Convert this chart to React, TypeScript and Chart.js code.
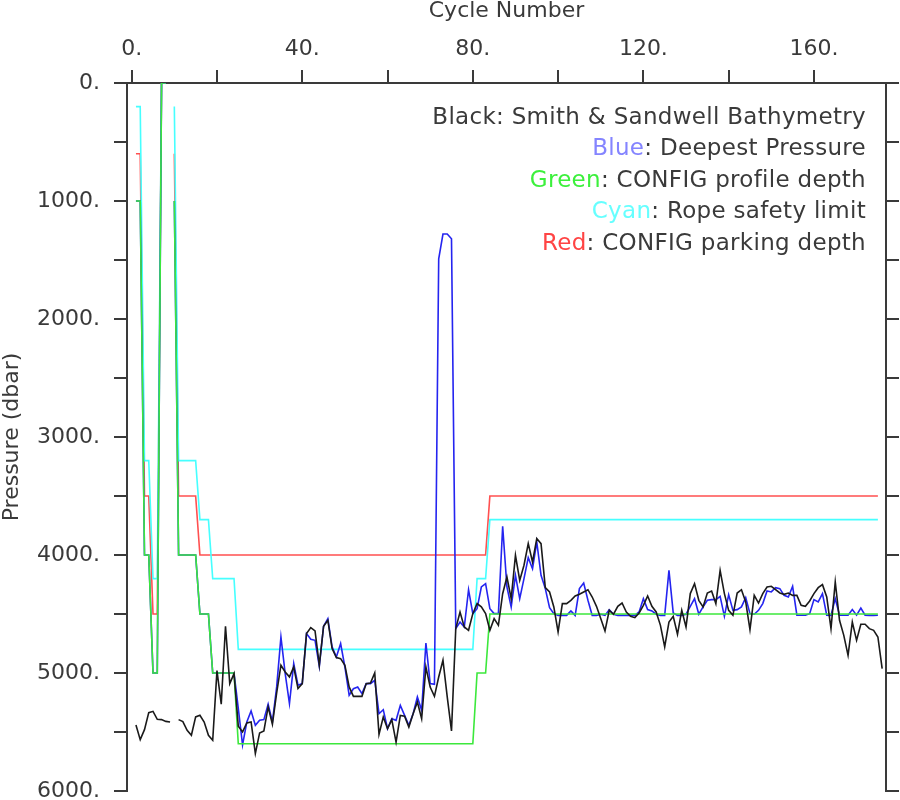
import React, { useEffect, useRef } from "react";
import { Chart, registerables } from "chart.js";

Chart.register(...registerables);

// ---------- data (cycle number -> pressure, dbar) ----------
const cycles = Array.from({ length: 176 }, (_, i) => i + 1);

const ropeSafetyLimit = [
  200, 200, 3200, 3200, 4200, 4200, 0, 0, null, 200,
  3200, 3200, 3200, 3200, 3200, 3700, 3700, 3700, 4200, 4200,
  4200, 4200, 4200, 4200, 4800, 4800, 4800, 4800, 4800, 4800,
  4800, 4800, 4800, 4800, 4800, 4800, 4800, 4800, 4800, 4800,
  4800, 4800, 4800, 4800, 4800, 4800, 4800, 4800, 4800, 4800,
  4800, 4800, 4800, 4800, 4800, 4800, 4800, 4800, 4800, 4800,
  4800, 4800, 4800, 4800, 4800, 4800, 4800, 4800, 4800, 4800,
  4800, 4800, 4800, 4800, 4800, 4800, 4800, 4800, 4800, 4800,
  4200, 4200, 4200, 3700, 3700, 3700, 3700, 3700, 3700, 3700,
  3700, 3700, 3700, 3700, 3700, 3700, 3700, 3700, 3700, 3700,
  3700, 3700, 3700, 3700, 3700, 3700, 3700, 3700, 3700, 3700,
  3700, 3700, 3700, 3700, 3700, 3700, 3700, 3700, 3700, 3700,
  3700, 3700, 3700, 3700, 3700, 3700, 3700, 3700, 3700, 3700,
  3700, 3700, 3700, 3700, 3700, 3700, 3700, 3700, 3700, 3700,
  3700, 3700, 3700, 3700, 3700, 3700, 3700, 3700, 3700, 3700,
  3700, 3700, 3700, 3700, 3700, 3700, 3700, 3700, 3700, 3700,
  3700, 3700, 3700, 3700, 3700, 3700, 3700, 3700, 3700, 3700,
  3700, 3700, 3700, 3700, 3700,
];

const parkingDepth = [
  600, 600, 3500, 3500, 4500, 4500, 0, 0, null, 600,
  3500, 3500, 3500, 3500, 3500, 4000, 4000, 4000, 4000, 4000,
  4000, 4000, 4000, 4000, 4000, 4000, 4000, 4000, 4000, 4000,
  4000, 4000, 4000, 4000, 4000, 4000, 4000, 4000, 4000, 4000,
  4000, 4000, 4000, 4000, 4000, 4000, 4000, 4000, 4000, 4000,
  4000, 4000, 4000, 4000, 4000, 4000, 4000, 4000, 4000, 4000,
  4000, 4000, 4000, 4000, 4000, 4000, 4000, 4000, 4000, 4000,
  4000, 4000, 4000, 4000, 4000, 4000, 4000, 4000, 4000, 4000,
  4000, 4000, 4000, 3500, 3500, 3500, 3500, 3500, 3500, 3500,
  3500, 3500, 3500, 3500, 3500, 3500, 3500, 3500, 3500, 3500,
  3500, 3500, 3500, 3500, 3500, 3500, 3500, 3500, 3500, 3500,
  3500, 3500, 3500, 3500, 3500, 3500, 3500, 3500, 3500, 3500,
  3500, 3500, 3500, 3500, 3500, 3500, 3500, 3500, 3500, 3500,
  3500, 3500, 3500, 3500, 3500, 3500, 3500, 3500, 3500, 3500,
  3500, 3500, 3500, 3500, 3500, 3500, 3500, 3500, 3500, 3500,
  3500, 3500, 3500, 3500, 3500, 3500, 3500, 3500, 3500, 3500,
  3500, 3500, 3500, 3500, 3500, 3500, 3500, 3500, 3500, 3500,
  3500, 3500, 3500, 3500, 3500,
];

const profileDepth = [
  1000, 1000, 4000, 4000, 5000, 5000, 0, 0, null, 1000,
  4000, 4000, 4000, 4000, 4000, 4500, 4500, 4500, 5000, 5000,
  5000, 5000, 5000, 5000, 5600, 5600, 5600, 5600, 5600, 5600,
  5600, 5600, 5600, 5600, 5600, 5600, 5600, 5600, 5600, 5600,
  5600, 5600, 5600, 5600, 5600, 5600, 5600, 5600, 5600, 5600,
  5600, 5600, 5600, 5600, 5600, 5600, 5600, 5600, 5600, 5600,
  5600, 5600, 5600, 5600, 5600, 5600, 5600, 5600, 5600, 5600,
  5600, 5600, 5600, 5600, 5600, 5600, 5600, 5600, 5600, 5600,
  5000, 5000, 5000, 4500, 4500, 4500, 4500, 4500, 4500, 4500,
  4500, 4500, 4500, 4500, 4500, 4500, 4500, 4500, 4500, 4500,
  4500, 4500, 4500, 4500, 4500, 4500, 4500, 4500, 4500, 4500,
  4500, 4500, 4500, 4500, 4500, 4500, 4500, 4500, 4500, 4500,
  4500, 4500, 4500, 4500, 4500, 4500, 4500, 4500, 4500, 4500,
  4500, 4500, 4500, 4500, 4500, 4500, 4500, 4500, 4500, 4500,
  4500, 4500, 4500, 4500, 4500, 4500, 4500, 4500, 4500, 4500,
  4500, 4500, 4500, 4500, 4500, 4500, 4500, 4500, 4500, 4500,
  4500, 4500, 4500, 4500, 4500, 4500, 4500, 4500, 4500, 4500,
  4500, 4500, 4500, 4500, 4500,
];

const deepestPressure = [
  1000, 1000, 4000, 4000, 5000, 5000, 0, 0, null, 1000,
  4000, 4000, 4000, 4000, 4000, 4500, 4500, 4500, 5000, 5000,
  5000, 5000, 5000, 5000, 5300, 5610, 5415, 5321, 5443, 5400,
  5395, 5265, 5415, 5118, 4694, 5005, 5259, 4920, 5104, 5090,
  4666, 4714, 4723, 4943, 4604, 4539, 4779, 4864, 4751, 4949,
  5189, 5133, 5119, 5175, 5090, 5090, 5062, 5345, 5311, 5472,
  5387, 5401, 5274, 5359, 5443, 5345, 5203, 5316, 4746, 5090,
  5096, 1490, 1280, 1280, 1320, 4624, 4568, 4610, 4294, 4497,
  4455, 4271, 4243, 4455, 4497, 4497, 3757, 4271, 4441, 4172,
  4370, 4200, 4022, 4116, 3890, 4172, 4285, 4446, 4497, 4512,
  4512, 4512, 4474, 4512, 4285, 4237, 4384, 4512, 4512, 4502,
  4512, 4463, 4502, 4512, 4512, 4512, 4512, 4512, 4483, 4370,
  4463, 4474, 4502, 4512, 4512, 4130, 4491, 4512, 4512, 4502,
  4435, 4370, 4502, 4440, 4384, 4378, 4378, 4350, 4520, 4336,
  4469, 4463, 4440, 4361, 4497, 4502, 4469, 4412, 4305, 4313,
  4277, 4285, 4342, 4356, 4265, 4510, 4510, 4510, 4497, 4378,
  4398, 4327, 4510, 4512, 4370, 4510, 4510, 4510, 4463, 4510,
  4449, 4510, 4512, 4512, 4510,
];

const bathymetry = [
  5440, 5565, 5480, 5336, 5325, 5392, 5395, 5410, 5415, null,
  5395, 5412, 5485, 5528, 5372, 5358, 5415, 5528, 5570, 4980,
  5265, 4604, 5090, 5005, 5450, 5499, 5423, 5415, 5683, 5508,
  5491, 5288, 5434, 5169, 4934, 4991, 5033, 4949, 5132, 5090,
  4666, 4615, 4643, 4934, 4604, 4553, 4793, 4869, 4878, 4934,
  5118, 5198, 5198, 5198, 5090, 5085, 5000, 5520, 5373, 5472,
  5395, 5585, 5359, 5367, 5458, 5345, 5246, 5387, 4949, 5119,
  5198, 5034, 4892, 5203, 5491, 4624, 4483, 4610, 4638, 4497,
  4412, 4440, 4497, 4638, 4539, 4596, 4328, 4186, 4370, 4003,
  4215, 4087, 3904, 4059, 3861, 3904, 4277, 4313, 4440, 4652,
  4412, 4412, 4384, 4347, 4333, 4313, 4294, 4356, 4435, 4539,
  4644, 4469, 4502, 4435, 4407, 4483, 4520, 4531, 4491, 4426,
  4347, 4435, 4483, 4596, 4779, 4568, 4520, 4672, 4469, 4610,
  4327, 4243, 4384, 4440, 4322, 4305, 4412, 4130, 4327, 4469,
  4511, 4322, 4294, 4398, 4633, 4342, 4407, 4327, 4271, 4265,
  4294, 4322, 4333, 4322, 4342, 4342, 4426, 4435, 4390, 4327,
  4277, 4251, 4356, 4624, 4228, 4553, 4681, 4850, 4568, 4723,
  4587, 4587, 4624, 4638, 4695, 4963,
];

const xTickValues = [0, 20, 40, 60, 80, 100, 120, 140, 160];
const xTickLabels = ["0.", "", "40.", "", "80.", "", "120.", "", "160."];
const yTickValues = [0, 500, 1000, 1500, 2000, 2500, 3000, 3500, 4000, 4500, 5000, 5500, 6000];
const yTickLabels = ["0.", "", "1000.", "", "2000.", "", "3000.", "", "4000.", "", "5000.", "", "6000."];

const legendKeys = ["Black", "Blue", "Green", "Cyan", "Red"];
const legendKeyColors = ["#3a3a3a", "#8484ff", "#3cf03c", "#66ffff", "#ff4444"];
const legendTexts = [
  ": Smith & Sandwell Bathymetry",
  ": Deepest Pressure",
  ": CONFIG profile depth",
  ": Rope safety limit",
  ": CONFIG parking depth",
];

// ---------- styles ----------
const FONT = '"DejaVu Sans", sans-serif';
const TEXT = "#3a3a3a";
const AXIS = "#3a3a3a";

const toPoints = (xs: number[], ys: (number | null)[]) => ys.map((v, i) => ({ x: xs[i], y: v }));

const legendPlugin = {
  id: "colourWordLegend",
  afterDraw(chart: any) {
    const ctx = chart.ctx as CanvasRenderingContext2D;
    const area = chart.chartArea;
    ctx.save();
    ctx.font = `normal 23px ${FONT}`;
    (ctx as any).letterSpacing = "0.3px";
    ctx.textBaseline = "alphabetic";
    ctx.textAlign = "left";
    const right = area.right - 20;
    legendKeys.forEach((key, i) => {
      const y = area.top + 40.5 + i * 31.6;
      const rest = legendTexts[i];
      const wRest = ctx.measureText(rest).width;
      const wKey = ctx.measureText(key).width;
      ctx.fillStyle = TEXT;
      ctx.fillText(rest, right - wRest, y);
      ctx.fillStyle = legendKeyColors[i];
      ctx.fillText(key, right - wRest - wKey, y);
    });
    ctx.restore();
  },
};

export default function App() {
  const ref = useRef<HTMLCanvasElement | null>(null);

  useEffect(() => {
    if (!ref.current) return;
    const lineDs = (label: string, data: any[], color: string, order: number, width = 1.6) => ({
      label,
      data,
      borderColor: color,
      backgroundColor: color,
      borderWidth: width,
      pointRadius: 0,
      tension: 0,
      fill: false,
      spanGaps: false,
      order,
    });

    const tickFont = { family: FONT, size: 22, weight: "normal" as const };

    const chart = new Chart(ref.current, {
      type: "line",
      data: {
        datasets: [
          lineDs("Smith & Sandwell Bathymetry", toPoints(cycles, bathymetry), "#1a1a1a", 0),
          lineDs("CONFIG profile depth", toPoints(cycles, profileDepth), "#3ce83c", 1),
          lineDs("Deepest Pressure", toPoints(cycles, deepestPressure), "#2424f0", 2),
          lineDs("Rope safety limit", toPoints(cycles, ropeSafetyLimit), "#46ffff", 3),
          lineDs("CONFIG parking depth", toPoints(cycles, parkingDepth), "#ff5050", 4),
        ],
      },
      options: {
        responsive: false,
        maintainAspectRatio: false,
        animation: false,
        devicePixelRatio: 1,
        layout: { padding: { left: 0, right: 0, top: 0, bottom: 9 } },
        plugins: {
          legend: { display: false },
          tooltip: { enabled: false },
        },
        scales: {
          x: {
            type: "linear",
            position: "top",
            min: -1.1,
            max: 176.9,
            afterBuildTicks: (s: any) => {
              s.ticks = xTickValues.map((v) => ({ value: v }));
            },
            afterFit: (s: any) => {
              s.height = 83;
              s.paddingLeft = 0;
              s.paddingRight = 0;
            },
            grid: { drawOnChartArea: false, drawTicks: true, tickLength: 13, color: AXIS, lineWidth: 2 },
            border: { display: true, color: AXIS, width: 2 },
            ticks: {
              autoSkip: false,
              maxRotation: 0,
              padding: 8,
              color: TEXT,
              font: tickFont,
              callback: (_v: any, i: number) => xTickLabels[i],
            },
            title: {
              display: true,
              text: "Cycle Number",
              color: TEXT,
              font: { family: FONT, size: 22, lineHeight: 1.05 },
              padding: 0,
            },
          },
          y: {
            type: "linear",
            position: "left",
            reverse: true,
            min: 0,
            max: 6000,
            afterBuildTicks: (s: any) => {
              s.ticks = yTickValues.map((v) => ({ value: v }));
            },
            afterFit: (s: any) => {
              s.width = 127;
              s.paddingTop = 0;
              s.paddingBottom = 0;
            },
            grid: { drawOnChartArea: false, drawTicks: true, tickLength: 13, color: AXIS, lineWidth: 2 },
            border: { display: true, color: AXIS, width: 2 },
            ticks: {
              autoSkip: false,
              padding: 14,
              color: TEXT,
              font: tickFont,
              callback: (_v: any, i: number) => yTickLabels[i],
            },
            title: {
              display: true,
              text: "Pressure (dbar)",
              color: TEXT,
              font: { family: FONT, size: 22, lineHeight: 1.1 },
              padding: 0,
            },
          },
          y2: {
            type: "linear",
            position: "right",
            reverse: true,
            min: 0,
            max: 6000,
            afterBuildTicks: (s: any) => {
              s.ticks = yTickValues.map((v) => ({ value: v }));
            },
            afterFit: (s: any) => {
              s.width = 14;
              s.paddingTop = 0;
              s.paddingBottom = 0;
            },
            grid: { drawOnChartArea: false, drawTicks: true, tickLength: 13, color: AXIS, lineWidth: 2 },
            border: { display: true, color: AXIS, width: 2 },
            ticks: { autoSkip: false, padding: 0, font: tickFont, callback: () => "" },
          },
        },
      } as any,
      plugins: [legendPlugin],
    });

    return () => chart.destroy();
  }, []);

  return (
    <div style={{ position: "absolute", left: 0, top: 0, width: 900, height: 800, background: "#fff" }}>
      <canvas ref={ref} width={900} height={800} style={{ display: "block", width: 900, height: 800 }} />
    </div>
  );
}
